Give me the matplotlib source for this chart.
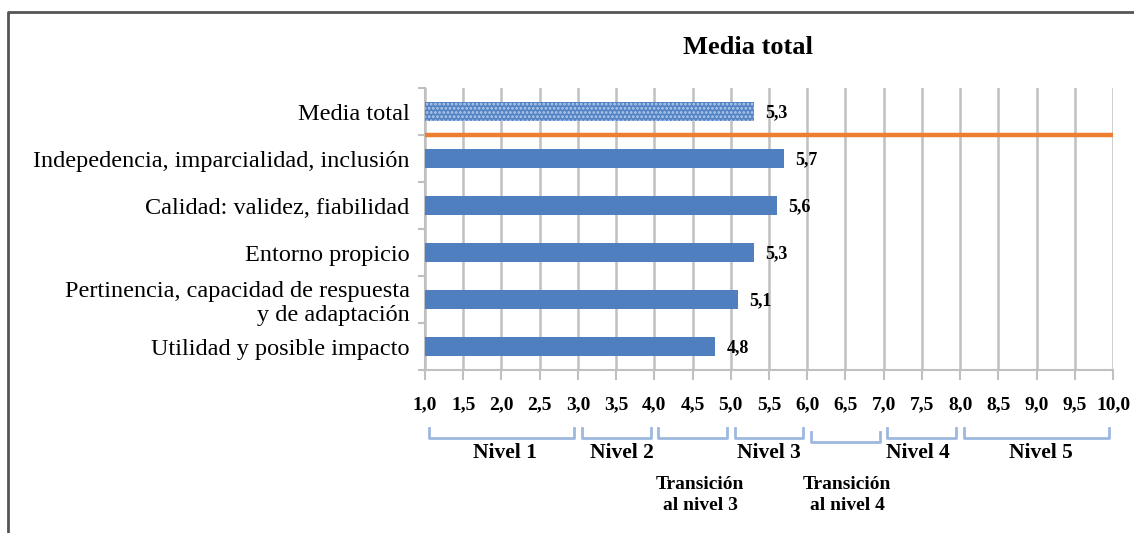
import matplotlib
matplotlib.use("Agg")
import matplotlib.pyplot as plt
from matplotlib.lines import Line2D
from matplotlib.transforms import blended_transform_factory

categories = ["Media total",
              "Indepedencia, imparcialidad, inclusión",
              "Calidad: validez, fiabilidad",
              "Entorno propicio",
              "Pertinencia, capacidad de respuesta\ny de adaptación",
              "Utilidad y posible impacto"]
values = [5.3, 5.7, 5.6, 5.3, 5.1, 4.8]
value_labels = ["5,3", "5,7", "5,6", "5,3", "5,1", "4,8"]

ticks = [1 + 0.5 * i for i in range(19)]
tick_labels = [f"{t:.1f}".replace(".", ",") for t in ticks]

# level ranges under the axis
brackets = [(1, 3), (3, 4), (4, 5), (5, 6), (6, 7), (7, 8), (8, 10)]
level_names = ["Nivel 1", "Nivel 2", "Nivel 3", "Nivel 4", "Nivel 5"]
level_pos = [2.05, 3.58, 5.5, 7.45, 9.05]
transition_names = ["Transición\nal nivel 3", "Transición\nal nivel 4"]
transition_pos = [4.6, 6.52]

W, H = 1134, 533
plt.rcParams["font.family"] = ["Liberation Serif", "DejaVu Serif"]
plt.rcParams["hatch.linewidth"] = 1.3
fig = plt.figure(figsize=(W / 100, H / 100), dpi=100)
ax = fig.add_axes([425 / W, 1 - 370 / H, (1113 - 425) / W, (370 - 88) / H])

BLUE = "#4f7fbf"
GRID = "#c0c0c0"
y = list(range(len(categories)))
bars = ax.barh(y, [v - 1 for v in values], left=1, height=0.4,
               color=BLUE, zorder=3)
# "Media total" bar: blue with light dots
bars[0].set_facecolor("#5584c4")
bars[0].set_edgecolor("#b3cbee")
bars[0].set_hatch("....")
bars[0].set_linewidth(0)

for yi, v, lab in zip(y, values, value_labels):
    ax.annotate(lab, (v, yi), xytext=(8, -1), textcoords="offset points",
                ha="left", va="center", fontsize=13, fontweight="bold")

ax.axhline(0.5, xmin=0.003, xmax=1, color="#ed7d31", lw=3.2, zorder=4)

ax.set_xlim(1, 10)
ax.set_ylim(5.45, -0.5)
ax.set_xticks(ticks, tick_labels, fontsize=14, fontweight="bold")
ax.set_yticks(y, categories, fontsize=17.5)
ax.set_yticks([i + 0.5 for i in range(-1, 6)], minor=True)
ax.tick_params(axis="y", which="major", length=0, pad=11)
ax.tick_params(axis="y", which="minor", length=5, color=GRID, width=1.5)
ax.tick_params(axis="x", length=7, color=GRID, width=1.5, pad=12)
ax.grid(axis="x", color=GRID, lw=1.8, zorder=0)
for s in ["top", "right"]:
    ax.spines[s].set_visible(False)
for s in ["left", "bottom"]:
    ax.spines[s].set_color(GRID)
    ax.spines[s].set_linewidth(1.5)

fig.text(748 / W, 1 - 48 / H, "Media total", ha="center", va="center",
         fontsize=19, fontweight="bold")

# brackets below the axis
tr = blended_transform_factory(ax.transData, fig.transFigure)
for lo, hi in brackets:
    off = 4 if lo == 6 else 0
    top = 1 - (428 + off) / H
    bot = 1 - (438 + off) / H
    a, b = lo + 0.05, hi - 0.05
    fig.add_artist(Line2D([a, a, b, b], [top, bot, bot, top], transform=tr,
                          color="#9db8df", lw=2))
for name, x in zip(level_names, level_pos):
    fig.text(x, 1 - 453 / H, name, transform=tr, ha="center", va="center",
             fontsize=15.5, fontweight="bold")
for name, x in zip(transition_names, transition_pos):
    fig.text(x, 1 - 495 / H, name, transform=tr, ha="center", va="center",
             fontsize=14, fontweight="bold", linespacing=1.25)

# outer frame (top and left only)
fig.add_artist(Line2D([8 / W, 8 / W, 1], [0, 1 - 12 / H, 1 - 12 / H],
                      transform=fig.transFigure, color="#555555", lw=2))

fig.savefig("out.png", dpi=100)
